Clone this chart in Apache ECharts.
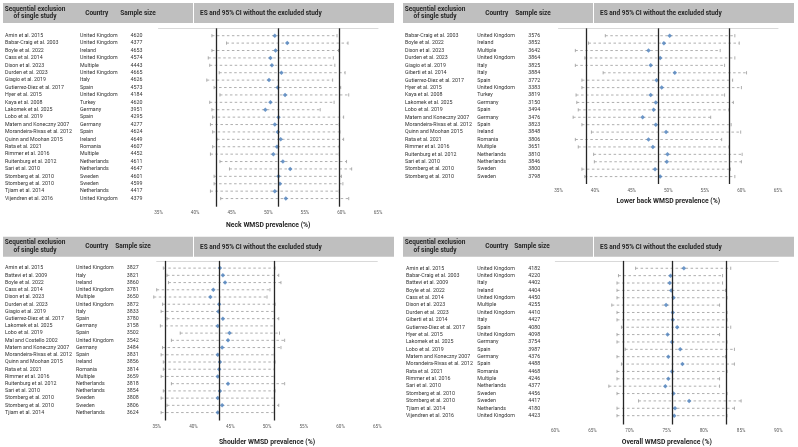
<!DOCTYPE html>
<html>
<head>
<meta charset="utf-8">
<script src="https://cdn.jsdelivr.net/npm/echarts@6/dist/echarts.min.js"></script>
<style>
  html, body { margin: 0; padding: 0; background: #fff; }
  #chart { width: 798px; height: 447px; }
</style>
</head>
<body>
<div id="chart"></div>
<script>
// ---- Neck ----
const neckStudies = ['Amin et al. 2015', 'Babar-Craig et al. 2003', 'Boyle et al. 2022', 'Cass et al. 2014', 'Dixon et al. 2023', 'Durden et al. 2023', 'Giagio et al. 2019', 'Gutierrez-Diez et al. 2017', 'Hyer et al. 2015', 'Kaya et al. 2008', 'Lakomek et al. 2025', 'Lobo et al. 2019', 'Matern and Koneczny 2007', 'Morandeira-Rivas et al. 2012', 'Quinn and Moohan 2015', 'Rata et al. 2021', 'Rimmer et al. 2016', 'Ruitenburg et al. 2012', 'Sari et al. 2010', 'Stomberg et al. 2010', 'Stomberg et al. 2010', 'Tjiam et al. 2014', 'Vijendren et al. 2016'];
const neckCountries = ['United Kingdom', 'United Kingdom', 'Ireland', 'United Kingdom', 'Multiple', 'United Kingdom', 'Italy', 'Spain', 'United Kingdom', 'Turkey', 'Germany', 'Spain', 'Germany', 'Spain', 'Ireland', 'Romania', 'Multiple', 'Netherlands', 'Netherlands', 'Sweden', 'Sweden', 'Netherlands', 'United Kingdom'];
const neckSizes = [4620, 4377, 4653, 4574, 4443, 4665, 4626, 4573, 4184, 4620, 3951, 4295, 4277, 4624, 4649, 4607, 4452, 4611, 4647, 4601, 4599, 4417, 4379];
const neckEs = [50.9, 52.6, 51.0, 50.3, 50.5, 51.8, 50.1, 51.3, 52.3, 50.3, 49.6, 51.4, 50.9, 51.3, 51.7, 51.2, 50.7, 52.0, 53.0, 51.4, 51.6, 50.9, 52.4];
const neckLow = [42.3, 44.3, 42.3, 41.8, 42.0, 43.3, 41.6, 42.6, 43.4, 42.0, 42.3, 42.4, 42.1, 42.4, 43.0, 42.4, 42.1, 43.4, 44.7, 42.6, 42.6, 42.1, 43.5];
const neckHigh = [59.4, 60.9, 59.6, 58.9, 59.1, 60.5, 58.8, 59.9, 61.0, 59.0, 57.1, 60.3, 59.7, 59.8, 60.3, 59.7, 59.7, 60.7, 61.4, 60.0, 60.2, 59.7, 61.0];
const neckPooled = [42.9, 51.4, 59.7];

// ---- Lower back ----
const backStudies = ['Babar-Craig et al. 2003', 'Boyle et al. 2022', 'Dixon et al. 2023', 'Durden et al. 2023', 'Giagio et al. 2019', 'Giberti et al. 2014', 'Gutierrez-Diez et al. 2017', 'Hyer et al. 2015', 'Kaya et al. 2008', 'Lakomek et al. 2025', 'Lobo et al. 2019', 'Matern and Koneczny 2007', 'Morandeira-Rivas et al. 2012', 'Quinn and Moohan 2015', 'Rata et al. 2021', 'Rimmer et al. 2016', 'Ruitenburg et al. 2012', 'Sari et al. 2010', 'Stomberg et al. 2010', 'Stomberg et al. 2010'];
const backCountries = ['United Kingdom', 'Ireland', 'Multiple', 'United Kingdom', 'Italy', 'Italy', 'Spain', 'United Kingdom', 'Turkey', 'Germany', 'Spain', 'Germany', 'Spain', 'Ireland', 'Romania', 'Multiple', 'Netherlands', 'Netherlands', 'Sweden', 'Sweden'];
const backSizes = [3576, 3852, 3642, 3864, 3825, 3884, 3772, 3383, 3819, 3150, 3494, 3476, 3823, 3848, 3806, 3651, 3810, 3846, 3800, 3798];
const backEs = [50.2, 49.4, 47.3, 48.9, 47.6, 50.9, 48.4, 49.1, 47.6, 48.3, 48.0, 46.5, 48.3, 49.7, 47.3, 47.9, 49.9, 49.8, 48.2, 48.9];
const backLow = [41.4, 39.1, 37.3, 38.6, 37.3, 41.1, 38.2, 38.2, 37.4, 37.5, 37.7, 37.0, 38.2, 39.5, 37.3, 37.7, 39.8, 39.9, 38.2, 38.6];
const backHigh = [59.1, 59.7, 57.1, 59.1, 57.7, 60.7, 58.8, 60.0, 57.7, 58.9, 58.3, 55.8, 58.6, 59.9, 57.3, 58.3, 60.1, 60.0, 58.5, 59.1];
const backPooled = [38.8, 48.6, 58.3];

// ---- Shoulder ----
const shoulderStudies = ['Amin et al. 2015', 'Battevi et al. 2009', 'Boyle et al. 2022', 'Cass et al. 2014', 'Dixon et al. 2023', 'Durden et al. 2023', 'Giagio et al. 2019', 'Gutierrez-Diez et al. 2017', 'Lakomek et al. 2025', 'Lobo et al. 2019', 'Mal and Costello 2002', 'Matern and Koneczny 2007', 'Morandeira-Rivas et al. 2012', 'Quinn and Moohan 2015', 'Rata et al. 2021', 'Rimmer et al. 2016', 'Ruitenburg et al. 2012', 'Sari et al. 2010', 'Stomberg et al. 2010', 'Stomberg et al. 2010', 'Tjiam et al. 2014'];
const shoulderCountries = ['United Kingdom', 'Italy', 'Ireland', 'United Kingdom', 'Multiple', 'United Kingdom', 'Italy', 'Spain', 'Germany', 'Spain', 'United Kingdom', 'Germany', 'Spain', 'Ireland', 'Romania', 'Multiple', 'Netherlands', 'Netherlands', 'Sweden', 'Sweden', 'Netherlands'];
const shoulderSizes = [3827, 3821, 3860, 3781, 3650, 3872, 3833, 3780, 3158, 3502, 3542, 3484, 3831, 3856, 3814, 3659, 3818, 3854, 3808, 3806, 3624];
const shoulderEs = [43.6, 44.0, 44.3, 42.7, 42.3, 43.5, 43.4, 44.0, 43.3, 44.9, 44.7, 43.9, 43.3, 43.6, 43.5, 43.3, 44.7, 43.6, 43.3, 43.9, 43.3];
const shoulderLow = [35.9, 36.4, 36.6, 35.0, 34.6, 35.8, 35.6, 36.4, 35.5, 38.2, 37.0, 35.8, 35.6, 35.9, 35.9, 35.6, 37.0, 35.9, 35.6, 36.4, 35.6];
const shoulderHigh = [51.1, 51.6, 51.9, 50.4, 50.0, 51.1, 51.0, 51.6, 51.0, 51.7, 52.4, 51.9, 51.0, 51.1, 51.0, 51.0, 52.4, 51.1, 51.0, 51.6, 51.0];
const shoulderPooled = [36.2, 43.5, 51.0];

// ---- Overall ----
const overallStudies = ['Amin et al. 2015', 'Babar-Craig et al. 2003', 'Battevi et al. 2009', 'Boyle et al. 2022', 'Cass et al. 2014', 'Dixon et al. 2023', 'Durden et al. 2023', 'Giberti et al. 2014', 'Gutierrez-Diez et al. 2017', 'Hyer et al. 2015', 'Lakomek et al. 2025', 'Lobo et al. 2019', 'Matern and Koneczny 2007', 'Morandeira-Rivas et al. 2012', 'Rata et al. 2021', 'Rimmer et al. 2016', 'Sari et al. 2010', 'Stomberg et al. 2010', 'Stomberg et al. 2010', 'Tjiam et al. 2014', 'Vijendren et al. 2016'];
const overallCountries = ['United Kingdom', 'United Kingdom', 'Italy', 'Ireland', 'United Kingdom', 'Multiple', 'United Kingdom', 'Italy', 'Spain', 'United Kingdom', 'Germany', 'Spain', 'Germany', 'Spain', 'Romania', 'Multiple', 'Netherlands', 'Sweden', 'Sweden', 'Netherlands', 'United Kingdom'];
const overallSizes = [4182, 4220, 4402, 4404, 4450, 4255, 4410, 4427, 4080, 4098, 3754, 3987, 4376, 4488, 4468, 4246, 4377, 4456, 4417, 4180, 4423];
const overallEs = [77.3, 75.5, 75.4, 75.6, 75.9, 74.9, 75.8, 75.8, 76.4, 75.1, 75.7, 76.8, 75.2, 77.1, 75.7, 75.2, 74.8, 75.9, 78.0, 76.1, 76.0];
const overallLow = [70.8, 68.5, 68.3, 68.3, 68.3, 67.6, 68.3, 68.3, 68.9, 68.3, 68.3, 69.4, 68.3, 68.9, 68.3, 68.3, 67.2, 68.3, 71.2, 68.3, 68.3];
const overallHigh = [83.6, 82.5, 82.5, 82.9, 83.1, 82.1, 83.1, 83.1, 83.6, 82.1, 83.1, 84.1, 82.9, 84.1, 83.1, 82.1, 82.1, 83.1, 85.0, 84.1, 83.1];
const overallPooled = [69.1, 75.8, 83.0];

const xTicksLow = [35, 65];
const xTicksHigh = [60, 90];

const FONT = 'Roboto, "Liberation Sans", sans-serif';

// layout of the four panels
const panels = [
  { title: 'Neck WMSD prevalence (%)', studies: neckStudies, countries: neckCountries, sizes: neckSizes,
    es: neckEs, low: neckLow, high: neckHigh, pooled: neckPooled, range: xTicksLow,
    ox: 0, grid: { left: 158.5, top: 28.3, width: 219.5, height: 178.4 }, yMax: 24.1, nameGap: 15,
    cols: [5, 80, 130.5], head: { y: 3, sizeX: 138 } },
  { title: 'Lower back WMSD prevalence (%)', studies: backStudies, countries: backCountries, sizes: backSizes,
    es: backEs, low: backLow, high: backHigh, pooled: backPooled, range: xTicksLow,
    ox: 400, grid: { left: 558.5, top: 28.3, width: 219.5, height: 155.7 }, yMax: 21, nameGap: 14,
    cols: [405, 477.3, 528.3], head: { y: 3, sizeX: 533 } },
  { title: 'Shoulder WMSD prevalence (%)', studies: shoulderStudies, countries: shoulderCountries, sizes: shoulderSizes,
    es: shoulderEs, low: shoulderLow, high: shoulderHigh, pooled: shoulderPooled, range: xTicksLow,
    ox: 0, grid: { left: 156.7, top: 260.9, width: 220.6, height: 163.1 }, yMax: 22.1, nameGap: 18.5,
    cols: [5, 76, 126.7], head: { y: 236.7, sizeX: 133 } },
  { title: 'Overall WMSD prevalence (%)', studies: overallStudies, countries: overallCountries, sizes: overallSizes,
    es: overallEs, low: overallLow, high: overallHigh, pooled: overallPooled, range: xTicksHigh,
    ox: 400, grid: { left: 555.3, top: 260.9, width: 223, height: 164.6 }, yMax: 22.2, nameGap: 14.5,
    cols: [406, 477.3, 528.3], head: { y: 236.7, sizeX: 532 } }
];

const chart = echarts.init(document.getElementById('chart'), null, { renderer: 'canvas' });

const grids = [], xAxes = [], yAxes = [], series = [], graphics = [];

panels.forEach((p, k) => {
  grids.push(Object.assign({ containLabel: false }, p.grid));

  xAxes.push({
    gridIndex: k, type: 'value', min: p.range[0], max: p.range[1], interval: 5,
    name: p.title, nameLocation: 'middle', nameGap: p.nameGap,
    nameTextStyle: { fontFamily: FONT, fontSize: 6.8, fontWeight: 'bold', color: '#262626' },
    axisLine: { show: true, lineStyle: { color: '#d9d9d9', width: 1 } },
    axisTick: { show: false },
    splitLine: { show: false },
    axisLabel: { fontFamily: FONT, fontSize: 4.6, color: '#595959', margin: 4, formatter: v => v + '%' }
  });

  const nameW = p.cols[1] - p.cols[0];
  const ctryW = p.cols[2] - p.cols[1];
  yAxes.push({
    gridIndex: k, type: 'value', inverse: true, min: 0, max: p.yMax, interval: 1,
    axisLine: { show: false }, axisTick: { show: false }, splitLine: { show: false },
    axisLabel: {
      align: 'left', margin: p.grid.left - p.cols[0], showMinLabel: false, showMaxLabel: false,
      fontFamily: FONT, fontSize: 5.3, color: '#333333',
      formatter: v => {
        const i = v - 1;
        if (!Number.isInteger(i) || i < 0 || i >= p.studies.length) return '';
        return '{n|' + p.studies[i] + '}{c|' + p.countries[i] + '}{s|' + p.sizes[i] + '}';
      },
      rich: {
        n: { width: nameW, fontFamily: FONT, fontSize: 5.3, color: '#333333' },
        c: { width: ctryW, fontFamily: FONT, fontSize: 5.3, color: '#333333' },
        s: { fontFamily: FONT, fontSize: 5.3, color: '#333333' }
      }
    }
  });

  // confidence intervals: dashed grey error bars with caps
  series.push({
    type: 'custom', xAxisIndex: k, yAxisIndex: k, silent: true, z: 2,
    data: p.low.map((lo, i) => [lo, p.high[i], i + 1]),
    renderItem: (params, api) => {
      const a = api.coord([api.value(0), api.value(2)]);
      const b = api.coord([api.value(1), api.value(2)]);
      const st = { stroke: '#9a9a9a', lineWidth: 0.8 };
      return {
        type: 'group',
        children: [
          { type: 'line', shape: { x1: a[0], y1: a[1], x2: b[0], y2: b[1] },
            style: Object.assign({ lineDash: [2.5, 2.5] }, st) },
          { type: 'line', shape: { x1: a[0], y1: a[1] - 1.6, x2: a[0], y2: a[1] + 1.6 }, style: st },
          { type: 'line', shape: { x1: b[0], y1: b[1] - 1.6, x2: b[0], y2: b[1] + 1.6 }, style: st }
        ]
      };
    }
  });

  // effect sizes + pooled estimate lines
  series.push({
    type: 'scatter', xAxisIndex: k, yAxisIndex: k, silent: true, z: 3,
    symbol: 'diamond', symbolSize: [4.5, 4.5],
    itemStyle: { color: '#4a7ebb' },
    data: p.es.map((v, i) => [v, i + 1]),
    markLine: {
      silent: true, symbol: 'none', label: { show: false },
      lineStyle: { color: '#262626', width: 1.3, type: 'solid' },
      data: p.pooled.map(v => ({ xAxis: v }))
    }
  });

  // header boxes
  const hy = p.head.y;
  const headText = (x, y, text, align) => ({
    type: 'text', x: x, y: y, silent: true,
    style: { text: text, fontFamily: FONT, fontSize: 6.5, fontWeight: 'bold', fill: '#262626', align: align || 'center', verticalAlign: 'middle' }
  });
  graphics.push(
    { type: 'rect', shape: { x: p.ox + 3, y: hy, width: 190, height: 20 }, style: { fill: '#bfbfbf' }, silent: true },
    { type: 'rect', shape: { x: p.ox + 194, y: hy, width: 200, height: 20 }, style: { fill: '#bfbfbf' }, silent: true },
    headText(p.ox + 35, hy + 6, 'Sequential exclusion'),
    headText(p.ox + 35, hy + 13.8, 'of single study'),
    headText(p.ox + 96.7, hy + 10, 'Country'),
    headText(p.head.sizeX, hy + 10, 'Sample size'),
    headText(p.ox + 200, hy + 10.5, 'ES and 95% CI without the excluded study', 'left')
  );
});

chart.setOption({
  animation: false,
  backgroundColor: '#ffffff',
  grid: grids,
  xAxis: xAxes,
  yAxis: yAxes,
  series: series,
  graphic: graphics
});
</script>
</body>
</html>
